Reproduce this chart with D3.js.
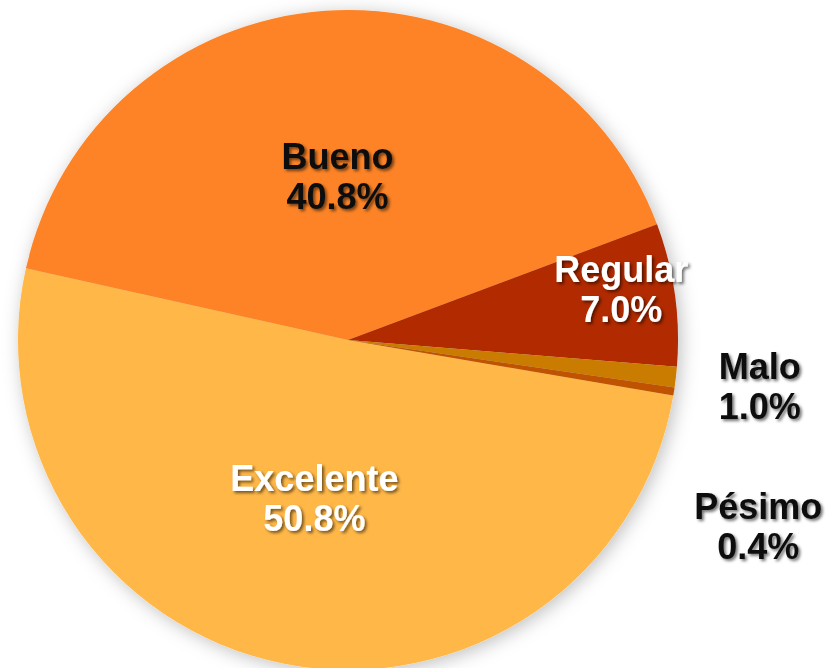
<!DOCTYPE html>
<html>
<head>
<meta charset="utf-8">
<script src="https://cdn.jsdelivr.net/npm/d3@7"></script>
<style>
  body { margin: 0; background: #fff; }
  svg { display: block; }
</style>
</head>
<body>
<svg id="chart" width="830" height="668"></svg>
<script>
// data
const categories = ["Excelente", "Bueno", "Regular", "Malo", "Pésimo"];
const values = [50.8, 40.8, 7.0, 1.0, 0.4];
const labels = ["50.8%", "40.8%", "7.0%", "1.0%", "0.4%"];

const colors = ["#FFB746", "#FD8326", "#B12900", "#C97B00", "#BF5300"];
const textColors = ["#fff", "#111", "#fff", "#111", "#111"];

const width = 830, height = 668;
const cx = 348, cy = 340, radius = 330;

// Excelente starts just past 3 o'clock, going clockwise
const start = 99.7 * Math.PI / 180;

// label placement: distance from centre, along the slice middle unless an angle is given
const labelPlace = {
    "Excelente": { r: 174 },
    "Bueno":     { r: 151 },
    "Regular":   { r: 276 },
    "Malo":      { r: 416, angle: 98.1 },
    "Pésimo":    { r: 456, angle: 115.9 }
};

const svg = d3.select("#chart");
const defs = svg.append("defs");

const pieShadow = defs.append("filter")
    .attr("id", "pie-shadow")
    .attr("x", "-20%").attr("y", "-20%")
    .attr("width", "140%").attr("height", "140%");
pieShadow.append("feDropShadow")
    .attr("dx", 3).attr("dy", 3)
    .attr("stdDeviation", 9)
    .attr("flood-color", "#000")
    .attr("flood-opacity", 0.25);

const textShadow = defs.append("filter")
    .attr("id", "text-shadow")
    .attr("x", "-20%").attr("y", "-20%")
    .attr("width", "140%").attr("height", "140%");
textShadow.append("feDropShadow")
    .attr("dx", 2).attr("dy", 2)
    .attr("stdDeviation", 1.5)
    .attr("flood-color", "#000")
    .attr("flood-opacity", 0.55);

const pie = d3.pie()
    .sort(null)
    .value(d => d.value)
    .startAngle(start)
    .endAngle(start + 2 * Math.PI);

const data = categories.map((c, i) => ({ name: c, value: values[i], label: labels[i], i }));
const arcs = pie(data);

const arc = d3.arc().innerRadius(0).outerRadius(radius);

const g = svg.append("g").attr("transform", `translate(${cx},${cy})`);

g.append("g")
    .attr("filter", "url(#pie-shadow)")
    .selectAll("path")
    .data(arcs)
    .enter()
    .append("path")
    .attr("d", arc)
    .attr("fill", d => colors[d.data.i]);

const labelG = g.selectAll("g.label")
    .data(arcs)
    .enter()
    .append("g")
    .attr("class", "label")
    .attr("transform", d => {
        const p = labelPlace[d.data.name];
        const a = p.angle !== undefined ? p.angle * Math.PI / 180 : (d.startAngle + d.endAngle) / 2;
        return `translate(${Math.sin(a) * p.r},${-Math.cos(a) * p.r})`;
    })
    .attr("filter", "url(#text-shadow)");

labelG.append("text")
    .attr("text-anchor", "middle")
    .attr("font-family", "Liberation Sans, Arial, sans-serif")
    .attr("font-weight", "bold")
    .attr("font-size", "36px")
    .attr("fill", d => textColors[d.data.i])
    .selectAll("tspan")
    .data(d => [d.data.name, d.data.label])
    .enter()
    .append("tspan")
    .attr("x", 0)
    .attr("y", (d, i) => i === 0 ? -20 : 20)
    .text(d => d);
</script>
</body>
</html>
